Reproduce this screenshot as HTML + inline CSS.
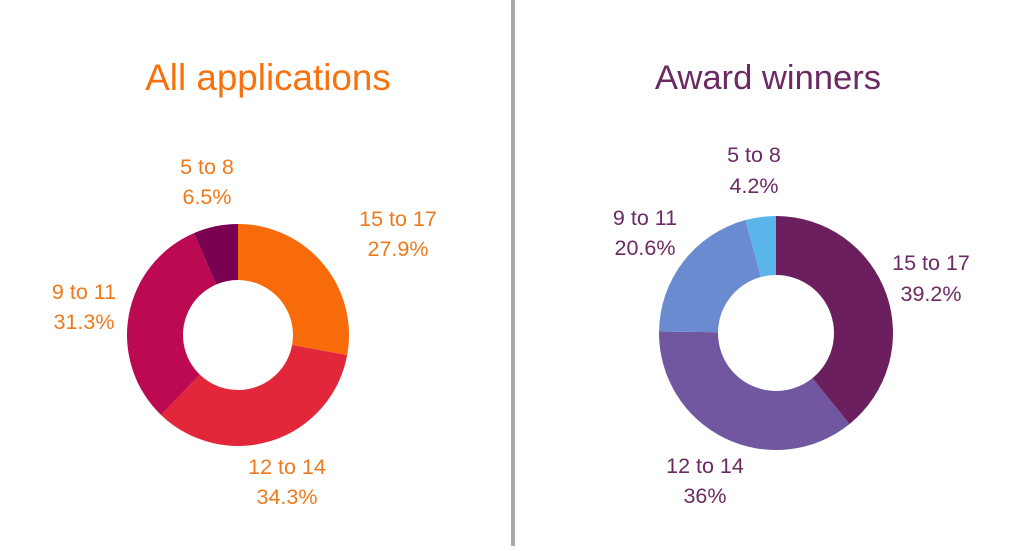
<!DOCTYPE html>
<html><head><meta charset="utf-8"><style>
body{margin:0;background:#fff;width:1024px;height:546px;overflow:hidden}
svg text{font-family:"Liberation Sans",sans-serif}
</style></head><body>
<svg id="s" width="1024" height="546" xmlns="http://www.w3.org/2000/svg">
<rect x="511" y="0" width="4" height="546" fill="#a8a8a4"/>
<text x="268" y="90" font-size="36.8" fill="#f7720f" text-anchor="middle">All applications</text>
<text x="768" y="89" font-size="34.6" fill="#6b2a63" text-anchor="middle">Award winners</text>
<g font-size="21.5" fill="#ee7a1c" text-anchor="middle">
<text x="207" y="174">5 to 8</text><text x="207" y="204">6.5%</text>
<text x="398" y="226">15 to 17</text><text x="398" y="256">27.9%</text>
<text x="84" y="299">9 to 11</text><text x="84" y="329">31.3%</text>
<text x="287" y="474">12 to 14</text><text x="287" y="504">34.3%</text>
</g>
<g font-size="21.5" fill="#6b2a63" text-anchor="middle">
<text x="754" y="162">5 to 8</text><text x="754" y="193">4.2%</text>
<text x="645" y="225">9 to 11</text><text x="645" y="255">20.6%</text>
<text x="931" y="270">15 to 17</text><text x="931" y="301">39.2%</text>
<text x="705" y="473">12 to 14</text><text x="705" y="503">36%</text>
</g>
</svg>
<script>
function donut(cx,cy,R,r,vals,cols){
  var s=document.getElementById('s'),a=0,tot=vals.reduce((x,y)=>x+y,0);
  vals.forEach(function(v,i){
    var a0=a/tot*2*Math.PI,a1=(a+v)/tot*2*Math.PI;a+=v;
    var p=function(rr,t){return (cx+rr*Math.sin(t)).toFixed(2)+' '+(cy-rr*Math.cos(t)).toFixed(2)};
    var L=(a1-a0)>Math.PI?1:0;
    var d='M'+p(R,a0)+' A'+R+' '+R+' 0 '+L+' 1 '+p(R,a1)+' L'+p(r,a1)+' A'+r+' '+r+' 0 '+L+' 0 '+p(r,a0)+' Z';
    var e=document.createElementNS('http://www.w3.org/2000/svg','path');
    e.setAttribute('d',d);e.setAttribute('fill',cols[i]);s.appendChild(e);
  });
}
donut(238,335,111,55,[27.9,34.3,31.3,6.5],['#f76b0a','#e3273b','#bb0a52','#7a0052']);
donut(776,333,117,58,[39.2,36,20.6,4.2],['#6b1f5e','#7156a0','#6a8bd0','#5ab6ea']);
</script>
</body></html>
